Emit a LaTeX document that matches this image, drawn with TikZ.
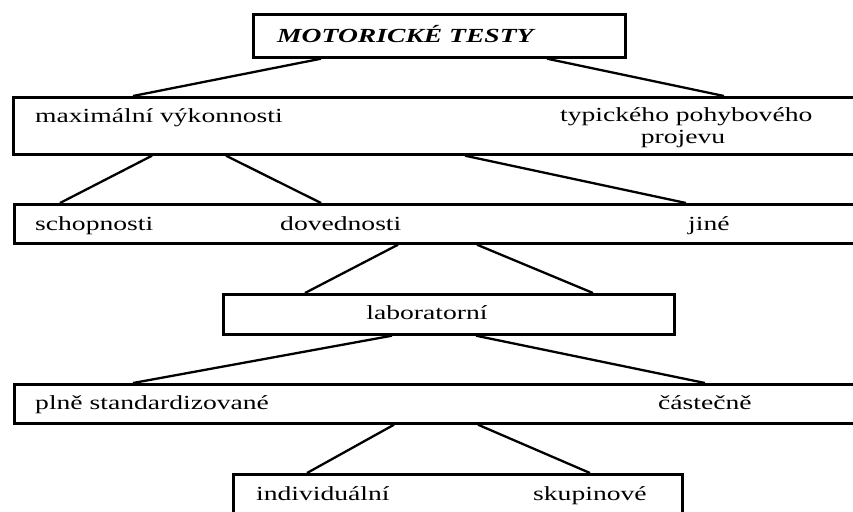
\documentclass[tikz,border=0pt]{standalone}
\usepackage{fontspec}
\setmainfont{Liberation Serif}[FakeStretch=1.38]
\usetikzlibrary{positioning}

\begin{document}
\begin{tikzpicture}
  [x=1pt,y=-1pt,
   every node/.style={font=\fontsize{20}{22}\selectfont},
   tbox/.style={draw,line width=2.7pt,inner sep=0pt,anchor=north west},
   txt/.style={inner sep=0pt,anchor=base west},
   link/.style={line width=2.3pt}]
  \useasboundingbox (0,0) rectangle (853,511);

  \node[tbox,minimum width=372pt,minimum height=43pt] (testy) at (252,13) {};
  \node[txt,font=\fontsize{20}{22}\selectfont\bfseries\itshape] (testyt) at (277,43) {MOTORICKÉ TESTY};

  \node[tbox,minimum width=860pt,minimum height=57pt] (vykon) at (12,96) {};
  \node[txt] (maxv) at (35,122) {maximální výkonnosti};
  \node[txt] (typ) at (560,121) {typického pohybového};
  \node[txt,anchor=base] (proj) at (683,143) {projevu};

  \node[tbox,minimum width=860pt,minimum height=39pt] (druh) at (13,203) {};
  \node[txt] (schop) at (35,230) {schopnosti};
  \node[txt] (doved) at (280,230) {dovednosti};
  \node[txt] (jine) at (688,230) {jiné};

  \node[tbox,minimum width=451pt,minimum height=40pt] (lab) at (222,293) {};
  \node[txt,anchor=base] (labt) at (427,319) {laboratorní};

  \node[tbox,minimum width=860pt,minimum height=39pt] (stand) at (13,383) {};
  \node[txt] (plne) at (35,409) {plně standardizované};
  \node[txt] (cast) at (658,409) {částečně};

  \node[tbox,minimum width=449pt,minimum height=60pt] (forma) at (232,473) {};
  \node[txt] (indiv) at (256,500) {individuální};
  \node[txt] (skup) at (533,500) {skupinové};

  \draw[link] ([xshift=69pt]testy.south west) -- ([xshift=121pt]vykon.north west);
  \draw[link] ([xshift=295pt]testy.south west) -- ([xshift=712pt]vykon.north west);

  \draw[link] ([xshift=140pt]vykon.south west) -- ([xshift=47pt]druh.north west);
  \draw[link] ([xshift=214pt]vykon.south west) -- ([xshift=308pt]druh.north west);
  \draw[link] ([xshift=453pt]vykon.south west) -- ([xshift=673pt]druh.north west);

  \draw[link] ([xshift=385pt]druh.south west) -- ([xshift=83pt]lab.north west);
  \draw[link] ([xshift=464pt]druh.south west) -- ([xshift=371pt]lab.north west);

  \draw[link] ([xshift=170pt]lab.south west) -- ([xshift=120pt]stand.north west);
  \draw[link] ([xshift=254pt]lab.south west) -- ([xshift=692pt]stand.north west);

  \draw[link] ([xshift=381pt]stand.south west) -- ([xshift=75pt]forma.north west);
  \draw[link] ([xshift=465pt]stand.south west) -- ([xshift=358pt]forma.north west);
\end{tikzpicture}
\end{document}
